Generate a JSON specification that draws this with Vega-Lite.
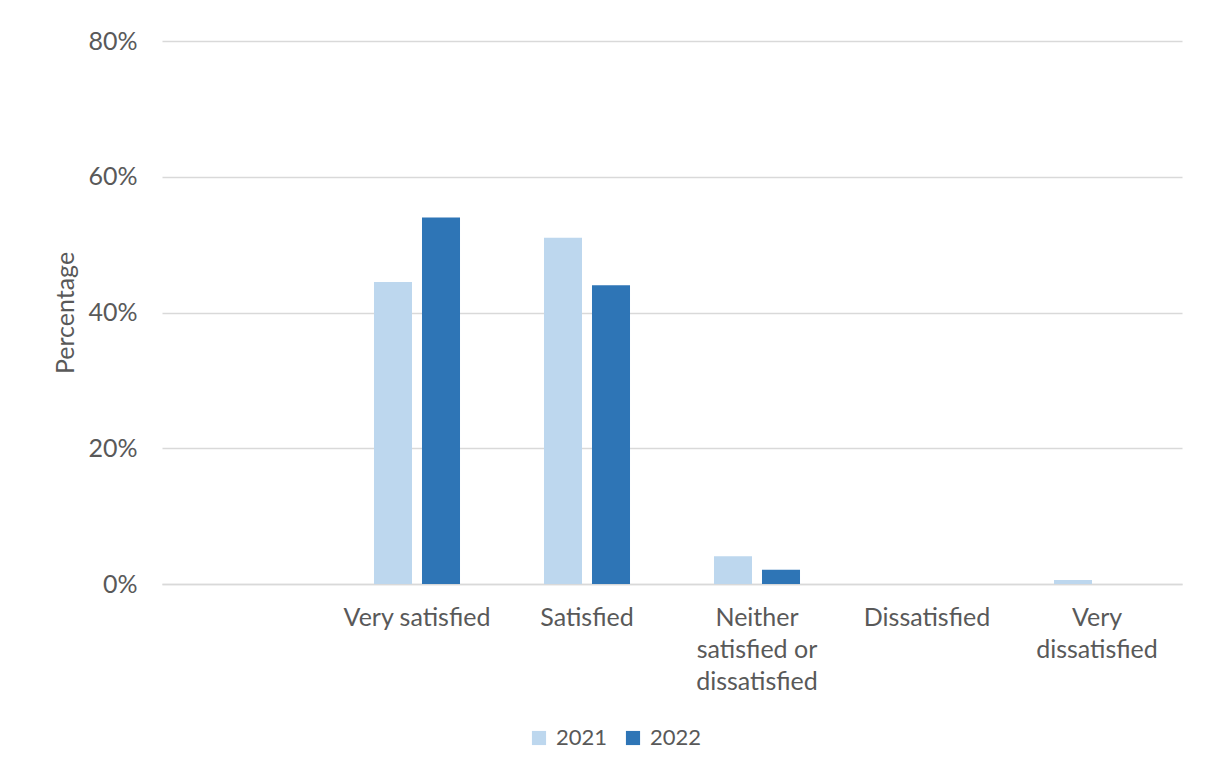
{
  "$schema": "https://vega.github.io/schema/vega-lite/v6.json",
  "autosize": "none",
  "width": 1020,
  "height": 543,
  "padding": {"left": 162, "top": 41, "right": 27, "bottom": 191},
  "background": "white",
  "config": {
    "font": "Lato",
    "view": {"stroke": null},
    "axis": {"labelColor": "#595959", "titleColor": "#595959", "labelFont": "Lato", "titleFont": "Lato"}
  },
  "data": {
    "values": [
      {"category": "Very satisfied", "year": "2021", "value": 0.445},
      {"category": "Very satisfied", "year": "2022", "value": 0.54},
      {"category": "Satisfied", "year": "2021", "value": 0.51},
      {"category": "Satisfied", "year": "2022", "value": 0.44},
      {"category": "Neither satisfied or dissatisfied", "year": "2021", "value": 0.041},
      {"category": "Neither satisfied or dissatisfied", "year": "2022", "value": 0.021},
      {"category": "Dissatisfied", "year": "2021", "value": 0.0},
      {"category": "Dissatisfied", "year": "2022", "value": 0.0},
      {"category": "Very dissatisfied", "year": "2021", "value": 0.006},
      {"category": "Very dissatisfied", "year": "2022", "value": 0.0}
    ]
  },
  "mark": {"type": "bar"},
  "encoding": {
    "x": {
      "field": "category",
      "type": "nominal",
      "scale": {
        "domain": ["", "Very satisfied", "Satisfied", "Neither satisfied or dissatisfied", "Dissatisfied", "Very dissatisfied"],
        "paddingInner": 0.494,
        "paddingOuter": 0.247
      },
      "axis": {
        "title": null,
        "labelAngle": 0,
        "labelFontSize": 25,
        "labelPadding": 21,
        "labelLineHeight": 32,
        "labelBaseline": "top",
        "ticks": false,
        "domainColor": "#D9D9D9",
        "domainWidth": 1.5,
        "labelLimit": 300,
        "labelExpr": "datum.value == 'Neither satisfied or dissatisfied' ? ['Neither', 'satisfied or', 'dissatisfied'] : datum.value == 'Very dissatisfied' ? ['Very', 'dissatisfied'] : datum.value"
      }
    },
    "xOffset": {
      "field": "year",
      "type": "nominal",
      "scale": {"paddingInner": 0.208, "paddingOuter": 0}
    },
    "y": {
      "field": "value",
      "type": "quantitative",
      "scale": {"domain": [0, 0.8]},
      "axis": {
        "title": "Percentage",
        "titleFontSize": 25,
        "titleFontWeight": "normal",
        "titlePadding": 9,
        "format": ".0%",
        "values": [0, 0.2, 0.4, 0.6, 0.8],
        "labelFontSize": 25,
        "labelPadding": 25,
        "ticks": false,
        "domain": false,
        "grid": true,
        "gridColor": "#D9D9D9",
        "gridWidth": 1.5
      }
    },
    "color": {
      "field": "year",
      "type": "nominal",
      "scale": {"domain": ["2021", "2022"], "range": ["#BDD7EE", "#2E75B6"]},
      "legend": {
        "title": null,
        "orient": "none",
        "direction": "horizontal",
        "legendX": 366,
        "legendY": 686,
        "symbolType": "square",
        "symbolSize": 200,
        "symbolStrokeWidth": 0,
        "labelFontSize": 22,
        "labelColor": "#595959",
        "labelFont": "Lato",
        "columnPadding": 14,
        "labelOffset": 6
      }
    }
  }
}
